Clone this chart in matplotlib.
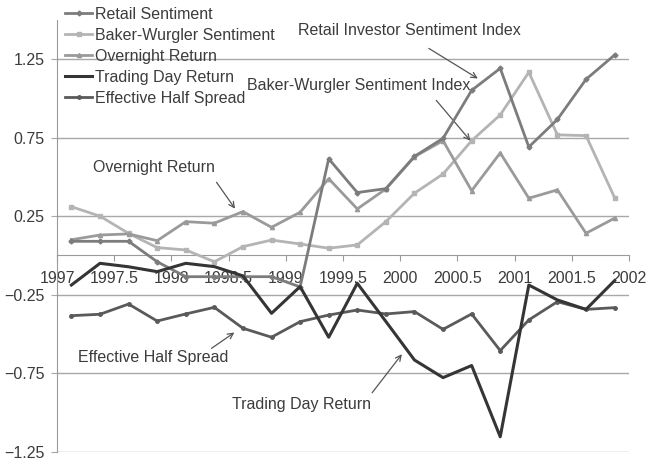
import matplotlib.pyplot as plt

plt.rcParams['font.family'] = ['Liberation Sans', 'DejaVu Sans']

# quarter mid-points
quarters = [1997.125, 1997.375, 1997.625, 1997.875, 1998.125, 1998.375, 1998.625, 1998.875,
            1999.125, 1999.375, 1999.625, 1999.875, 2000.125, 2000.375, 2000.625, 2000.875,
            2001.125, 2001.375, 2001.625, 2001.875]

retail = [0.09, 0.09, 0.09, -0.04, -0.135, -0.135, -0.135, -0.135, -0.20, 0.615,
          0.40, 0.425, 0.63, 0.745, 1.05, 1.19, 0.69, 0.865, 1.12, 1.275]
baker_wurgler = [0.31, 0.25, 0.14, 0.05, 0.035, -0.04, 0.056, 0.098, 0.073, 0.046,
                 0.067, 0.215, 0.396, 0.518, 0.73, 0.894, 1.165, 0.767, 0.762, 0.368]
overnight = [0.10, 0.13, 0.137, 0.094, 0.215, 0.205, 0.279, 0.179, 0.275, 0.488,
             0.296, 0.423, 0.628, 0.73, 0.412, 0.652, 0.364, 0.417, 0.141, 0.237]
trading_day = [-0.188, -0.05, -0.072, -0.103, -0.05, -0.071, -0.13, -0.368, -0.198, -0.52,
               -0.177, -0.42, -0.665, -0.777, -0.70, -1.153, -0.188, -0.283, -0.343, -0.16]
half_spread = [-0.383, -0.374, -0.309, -0.417, -0.372, -0.33, -0.463, -0.52, -0.421, -0.379,
               -0.347, -0.372, -0.357, -0.47, -0.372, -0.605, -0.41, -0.294, -0.343, -0.332]

y_ticks = [1.25, 0.75, 0.25, -0.25, -0.75, -1.25]
x_ticks = [1997, 1997.5, 1998, 1998.5, 1999, 1999.5, 2000, 2000.5, 2001, 2001.5, 2002]

text_color = '#3c3c3c'
fs = 11.5

fig = plt.figure(figsize=(6.49, 4.61), dpi=100)
ax = fig.add_axes([0.088, 0.0195, 0.881, 0.938])

for y in y_ticks:
    ax.axhline(y, color='#a8a8a8', lw=1.0, zorder=1)

ax.plot(quarters, retail, color='#7c7c7c', lw=2.0, marker='D', ms=2.5, label='Retail Sentiment', zorder=4)
ax.plot(quarters, baker_wurgler, color='#b4b4b4', lw=2.0, marker='s', ms=3.5, label='Baker-Wurgler Sentiment', zorder=3)
ax.plot(quarters, overnight, color='#9a9a9a', lw=2.0, marker='^', ms=3, label='Overnight Return', zorder=3)
ax.plot(quarters, trading_day, color='#353535', lw=2.2, label='Trading Day Return', zorder=5)
ax.plot(quarters, half_spread, color='#5a5a5a', lw=2.0, marker='o', ms=2.5, label='Effective Half Spread', zorder=4)

ax.set_xlim(1997, 2002)
ax.set_ylim(-1.25, 1.5)
ax.set_yticks(y_ticks)
ax.set_yticklabels(['1.25', '0.75', '0.25', '\u22120.25', '\u22120.75', '\u22121.25'])
ax.set_xticks(x_ticks)
ax.set_xticklabels(['1997', '1997.5', '1998', '1998.5', '1999', '1999.5', '2000', '2000.5',
                    '2001', '2001.5', '2002'])

ax.spines['top'].set_visible(False)
ax.spines['right'].set_visible(False)
ax.spines['bottom'].set_position(('data', 0))
ax.spines['bottom'].set_color('#9a9a9a')
ax.spines['left'].set_color('#9a9a9a')
ax.tick_params(axis='x', colors='#9a9a9a', labelcolor=text_color, labelsize=fs, length=4, pad=7, direction='out')
ax.tick_params(axis='y', colors='#a8a8a8', labelcolor=text_color, labelsize=fs, length=4, pad=5)

# annotations
ax.text(2000.08, 1.428, 'Retail Investor Sentiment Index', ha='center', va='center', fontsize=fs, color=text_color)
ax.annotate('', xy=(2000.70, 1.116), xytext=(2000.23, 1.326),
            arrowprops=dict(arrowstyle='->', color='#555555', lw=0.9))
ax.text(1999.64, 1.078, 'Baker-Wurgler Sentiment Index', ha='center', va='center', fontsize=fs, color=text_color)
ax.annotate('', xy=(2000.63, 0.716), xytext=(2000.30, 1.0),
            arrowprops=dict(arrowstyle='->', color='#555555', lw=0.9))
ax.text(1997.85, 0.557, 'Overnight Return', ha='center', va='center', fontsize=fs, color=text_color)
ax.annotate('', xy=(1998.57, 0.283), xytext=(1998.38, 0.48),
            arrowprops=dict(arrowstyle='->', color='#555555', lw=0.9))
ax.text(1997.84, -0.652, 'Effective Half Spread', ha='center', va='center', fontsize=fs, color=text_color)
ax.annotate('', xy=(1998.57, -0.48), xytext=(1998.33, -0.601),
            arrowprops=dict(arrowstyle='->', color='#555555', lw=0.9))
ax.text(1999.14, -0.951, 'Trading Day Return', ha='center', va='center', fontsize=fs, color=text_color)
ax.annotate('', xy=(2000.03, -0.614), xytext=(1999.74, -0.887),
            arrowprops=dict(arrowstyle='->', color='#555555', lw=0.9))

leg = fig.legend(loc='upper left', bbox_to_anchor=(0.083, 1.01), frameon=False, fontsize=fs,
                 handlelength=1.7, handletextpad=0.15, labelspacing=0.38, borderpad=0.2)
for t in leg.get_texts():
    t.set_color(text_color)

fig.savefig('out.png', dpi=100)
